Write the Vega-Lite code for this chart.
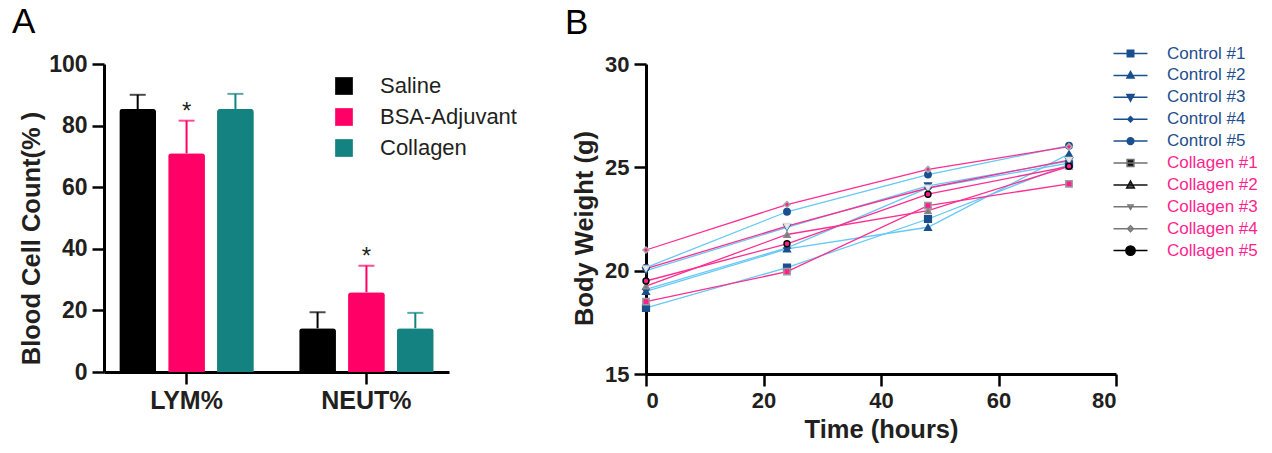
{
  "$schema": "https://vega.github.io/schema/vega-lite/v6.json",
  "background": "white",
  "padding": {"left": 12, "top": 5, "right": 2, "bottom": 2},
  "spacing": 197,
  "bounds": "flush",
  "config": {
    "view": {"stroke": null},
    "font": "Liberation Sans",
    "axis": {
      "grid": false,
      "domainColor": "#000000",
      "domainWidth": 3,
      "tickColor": "#000000",
      "tickWidth": 2.5,
      "tickSize": 12,
      "labelFont": "Liberation Sans",
      "labelFontWeight": "bold",
      "labelColor": "#231f20",
      "labelFontSize": 22,
      "labelPadding": 5,
      "titleFont": "Liberation Sans",
      "titleFontWeight": "bold",
      "titleFontSize": 25.5,
      "titleColor": "#231f20"
    }
  },
  "resolve": {"scale": {"color": "independent", "shape": "independent", "fill": "independent", "stroke": "independent", "size": "independent"}},
  "hconcat": [
    {
      "width": 345,
      "height": 308,
      "title": {"text": "A", "anchor": "start", "frame": "group", "dx": -92, "fontSize": 35, "fontWeight": "normal", "font": "Liberation Sans", "color": "#000000", "baseline": "alphabetic", "offset": -15},
      "data": {"values": [
        {"cell": "LYM%", "group": "Saline", "value": 85.4, "upper": 90.0},
        {"cell": "LYM%", "group": "BSA-Adjuvant", "value": 71.0, "upper": 81.6, "sig": "*"},
        {"cell": "LYM%", "group": "Collagen", "value": 85.4, "upper": 90.3},
        {"cell": "NEUT%", "group": "Saline", "value": 14.2, "upper": 19.4},
        {"cell": "NEUT%", "group": "BSA-Adjuvant", "value": 25.9, "upper": 34.5, "sig": "*"},
        {"cell": "NEUT%", "group": "Collagen", "value": 14.2, "upper": 19.2}
      ]},
      "encoding": {
        "x": {"field": "cell", "type": "nominal", "sort": ["LYM%", "NEUT%"], "scale": {"paddingInner": 0.252, "paddingOuter": 0.085}, "axis": {"title": null, "labelAngle": 0, "labelFontSize": 25, "labelPadding": 4}},
        "xOffset": {"field": "group", "type": "nominal", "sort": ["Saline", "BSA-Adjuvant", "Collagen"], "scale": {"paddingInner": 0.247, "paddingOuter": 0}}
      },
      "layer": [
        {
          "mark": {"type": "bar", "cornerRadiusTopLeft": 3, "cornerRadiusTopRight": 3},
          "encoding": {
            "y": {"field": "value", "type": "quantitative", "scale": {"domain": [0, 100]}, "axis": {"title": "Blood Cell Count(% )", "values": [0, 20, 40, 60, 80, 100], "labelFontSize": 23, "titlePadding": 4, "titleY": 174}},
            "color": {"field": "group", "type": "nominal", "scale": {"domain": ["Saline", "BSA-Adjuvant", "Collagen"], "range": ["#000000", "#ff0066", "#138280"]},
              "legend": {"title": null, "orient": "none", "legendX": 229, "legendY": 11, "symbolType": "square", "symbolSize": 313, "symbolStrokeWidth": 0, "labelFont": "Liberation Sans", "labelFontSize": 22, "labelColor": "#231f20", "labelOffset": 25, "rowPadding": 9, "padding": 0}}
          }
        },
        {
          "mark": {"type": "rule", "strokeWidth": 2},
          "encoding": {
            "y": {"field": "value", "type": "quantitative"},
            "y2": {"field": "upper"},
            "color": {"field": "group", "type": "nominal", "legend": null}
          }
        },
        {
          "mark": {"type": "tick", "thickness": 2, "size": 16},
          "encoding": {
            "y": {"field": "upper", "type": "quantitative"},
            "color": {"field": "group", "type": "nominal", "legend": null}
          }
        },
        {
          "transform": [{"filter": "datum.sig"}],
          "mark": {"type": "text", "fontSize": 24, "font": "Liberation Sans", "baseline": "alphabetic", "dy": -2, "color": "#231f20"},
          "encoding": {
            "y": {"field": "upper", "type": "quantitative"},
            "text": {"field": "sig"}
          }
        }
      ]
    },
    {
      "width": 470,
      "height": 310,
      "title": {"text": "B", "anchor": "start", "frame": "group", "dx": -81, "fontSize": 35, "fontWeight": "normal", "font": "Liberation Sans", "color": "#000000", "baseline": "alphabetic", "offset": -25},
      "data": {"values": [
        {"series": "Control #1", "grp": "Control", "t": 0, "w": 18.2},
        {"series": "Control #1", "grp": "Control", "t": 24, "w": 20.15},
        {"series": "Control #1", "grp": "Control", "t": 48, "w": 22.5},
        {"series": "Control #1", "grp": "Control", "t": 72, "w": 25.15},
        {"series": "Control #2", "grp": "Control", "t": 0, "w": 19.0},
        {"series": "Control #2", "grp": "Control", "t": 24, "w": 21.05},
        {"series": "Control #2", "grp": "Control", "t": 48, "w": 22.1},
        {"series": "Control #2", "grp": "Control", "t": 72, "w": 25.65},
        {"series": "Control #3", "grp": "Control", "t": 0, "w": 20.0},
        {"series": "Control #3", "grp": "Control", "t": 24, "w": 22.1},
        {"series": "Control #3", "grp": "Control", "t": 48, "w": 24.1},
        {"series": "Control #3", "grp": "Control", "t": 72, "w": 25.3},
        {"series": "Control #4", "grp": "Control", "t": 0, "w": 19.1},
        {"series": "Control #4", "grp": "Control", "t": 24, "w": 21.1},
        {"series": "Control #4", "grp": "Control", "t": 48, "w": 24.0},
        {"series": "Control #4", "grp": "Control", "t": 72, "w": 25.2},
        {"series": "Control #5", "grp": "Control", "t": 0, "w": 20.15},
        {"series": "Control #5", "grp": "Control", "t": 24, "w": 22.85},
        {"series": "Control #5", "grp": "Control", "t": 48, "w": 24.65},
        {"series": "Control #5", "grp": "Control", "t": 72, "w": 26.05},
        {"series": "Collagen #1", "grp": "Collagen", "t": 0, "w": 18.5},
        {"series": "Collagen #1", "grp": "Collagen", "t": 24, "w": 19.95},
        {"series": "Collagen #1", "grp": "Collagen", "t": 48, "w": 23.15},
        {"series": "Collagen #1", "grp": "Collagen", "t": 72, "w": 24.2},
        {"series": "Collagen #2", "grp": "Collagen", "t": 0, "w": 19.25},
        {"series": "Collagen #2", "grp": "Collagen", "t": 24, "w": 21.75},
        {"series": "Collagen #2", "grp": "Collagen", "t": 48, "w": 22.9},
        {"series": "Collagen #2", "grp": "Collagen", "t": 72, "w": 25.05},
        {"series": "Collagen #3", "grp": "Collagen", "t": 0, "w": 20.1},
        {"series": "Collagen #3", "grp": "Collagen", "t": 24, "w": 22.15},
        {"series": "Collagen #3", "grp": "Collagen", "t": 48, "w": 24.0},
        {"series": "Collagen #3", "grp": "Collagen", "t": 72, "w": 25.35},
        {"series": "Collagen #4", "grp": "Collagen", "t": 0, "w": 21.0},
        {"series": "Collagen #4", "grp": "Collagen", "t": 24, "w": 23.2},
        {"series": "Collagen #4", "grp": "Collagen", "t": 48, "w": 24.9},
        {"series": "Collagen #4", "grp": "Collagen", "t": 72, "w": 26.0},
        {"series": "Collagen #5", "grp": "Collagen", "t": 0, "w": 19.5},
        {"series": "Collagen #5", "grp": "Collagen", "t": 24, "w": 21.3},
        {"series": "Collagen #5", "grp": "Collagen", "t": 48, "w": 23.7},
        {"series": "Collagen #5", "grp": "Collagen", "t": 72, "w": 25.05}
      ]},
      "encoding": {
        "x": {"field": "t", "type": "quantitative", "scale": {"domain": [0, 80]}, "axis": {"title": "Time (hours)", "values": [0, 20, 40, 60, 80], "labelPadding": 4, "titlePadding": 6}},
        "y": {"field": "w", "type": "quantitative", "scale": {"domain": [15, 30]}, "axis": {"title": "Body Weight (g)", "values": [15, 20, 25, 30], "titlePadding": 7, "titleY": 164}}
      },
      "layer": [
        {
          "mark": {"type": "line", "strokeWidth": 1.3},
          "encoding": {
            "detail": {"field": "series"},
            "color": {"field": "grp", "type": "nominal", "scale": {"domain": ["Control", "Collagen"], "range": ["#66c8f4", "#ff2d8f"]}, "legend": null}
          }
        },
        {
          "mark": {"type": "point", "filled": true, "opacity": 1, "strokeWidth": 1.5},
          "encoding": {
            "shape": {"field": "series", "type": "nominal", "legend": null, "scale": {
              "domain": ["Control #1", "Control #2", "Control #3", "Control #4", "Control #5", "Collagen #1", "Collagen #2", "Collagen #3", "Collagen #4", "Collagen #5"],
              "range": ["square", "triangle-up", "triangle-down", "diamond", "circle", "square", "triangle-up", "triangle-down", "diamond", "circle"]}},
            "fill": {"field": "series", "type": "nominal", "legend": null, "scale": {
              "domain": ["Control #1", "Control #2", "Control #3", "Control #4", "Control #5", "Collagen #1", "Collagen #2", "Collagen #3", "Collagen #4", "Collagen #5"],
              "range": ["#1a4f8f", "#1a4f8f", "#1a4f8f", "#1a4f8f", "#1a4f8f", "#ff1f8e", "#777777", "#eeeeee", "#ff1f8e", "#ff1f8e"]}},
            "stroke": {"field": "series", "type": "nominal", "legend": null, "scale": {
              "domain": ["Control #1", "Control #2", "Control #3", "Control #4", "Control #5", "Collagen #1", "Collagen #2", "Collagen #3", "Collagen #4", "Collagen #5"],
              "range": ["#1a4f8f", "#1a4f8f", "#1a4f8f", "#1a4f8f", "#1a4f8f", "#9a9a9a", "#8a8a8a", "#dddddd", "#aaaaaa", "#000000"]}},
            "size": {"field": "series", "type": "nominal", "legend": null, "scale": {
              "domain": ["Control #1", "Control #2", "Control #3", "Control #4", "Control #5", "Collagen #1", "Collagen #2", "Collagen #3", "Collagen #4", "Collagen #5"],
              "range": [45, 35, 40, 30, 45, 50, 50, 30, 45, 60]}}
          }
        },
        {
          "mark": {"type": "point", "filled": true, "opacity": 0, "size": 289},
          "encoding": {
            "shape": {"field": "series", "type": "nominal",
              "scale": {
                "domain": ["Control #1", "Control #2", "Control #3", "Control #4", "Control #5", "Collagen #1", "Collagen #2", "Collagen #3", "Collagen #4", "Collagen #5"],
                "range": [
                  "M-2,0H2M-0.38,-0.38H0.38V0.38H-0.38Z",
                  "M-2,0H2M0,-0.45L0.42,0.32H-0.42Z",
                  "M-2,0H2M0,0.45L0.42,-0.32H-0.42Z",
                  "M-2,0H2M0,-0.32L0.32,0L0,0.32L-0.32,0Z",
                  "M-2,0H2M-0.4,0A0.4,0.4 0 1,0 0.4,0A0.4,0.4 0 1,0 -0.4,0Z",
                  "M-2,0H2M-0.4,-0.4H0.4V0.4H-0.4Z",
                  "M-2,0H2M0,-0.45L0.45,0.35H-0.45Z",
                  "M-2,0H2M0,0.3L0.3,-0.22H-0.3Z",
                  "M-2,0H2M0,-0.35L0.35,0L0,0.35L-0.35,0Z",
                  "M-2,0H2M-0.55,0A0.55,0.55 0 1,0 0.55,0A0.55,0.55 0 1,0 -0.55,0Z"
                ]},
              "legend": {"title": null, "orient": "none", "legendX": 475, "legendY": -20, "symbolSize": 289, "symbolStrokeWidth": 1.5, "symbolOpacity": 1, "labelFont": "Liberation Sans", "labelFontSize": 17, "labelOffset": 27, "labelLimit": 300, "rowPadding": 3.9, "padding": 0,
                "encode": {"labels": {"update": {"fill": {"signal": "indexof(datum.label, 'Control') === 0 ? '#1f4e8c' : '#ff1f8e'"}}}}}},
            "fill": {"field": "series", "type": "nominal",
              "scale": {
                "domain": ["Control #1", "Control #2", "Control #3", "Control #4", "Control #5", "Collagen #1", "Collagen #2", "Collagen #3", "Collagen #4", "Collagen #5"],
                "range": ["#1a4f8f", "#1a4f8f", "#1a4f8f", "#1a4f8f", "#1a4f8f", "#111111", "#555555", "#eeeeee", "#aaaaaa", "#000000"]},
              "legend": {"title": null, "orient": "none", "legendX": 475, "legendY": -20, "symbolSize": 289, "symbolStrokeWidth": 1.5, "symbolOpacity": 1, "labelFont": "Liberation Sans", "labelFontSize": 17, "labelOffset": 27, "labelLimit": 300, "rowPadding": 3.9, "padding": 0,
                "encode": {"labels": {"update": {"fill": {"signal": "indexof(datum.label, 'Control') === 0 ? '#1f4e8c' : '#ff1f8e'"}}}}}},
            "stroke": {"field": "series", "type": "nominal",
              "scale": {
                "domain": ["Control #1", "Control #2", "Control #3", "Control #4", "Control #5", "Collagen #1", "Collagen #2", "Collagen #3", "Collagen #4", "Collagen #5"],
                "range": ["#1a4f8f", "#1a4f8f", "#1a4f8f", "#1a4f8f", "#1a4f8f", "#707070", "#111111", "#777777", "#777777", "#000000"]},
              "legend": {"title": null, "orient": "none", "legendX": 475, "legendY": -20, "symbolSize": 289, "symbolStrokeWidth": 1.5, "symbolOpacity": 1, "labelFont": "Liberation Sans", "labelFontSize": 17, "labelOffset": 27, "labelLimit": 300, "rowPadding": 3.9, "padding": 0,
                "encode": {"labels": {"update": {"fill": {"signal": "indexof(datum.label, 'Control') === 0 ? '#1f4e8c' : '#ff1f8e'"}}}}}}
          }
        }
      ],
      "resolve": {"scale": {"shape": "independent", "fill": "independent", "stroke": "independent", "size": "independent"}}
    }
  ]
}
